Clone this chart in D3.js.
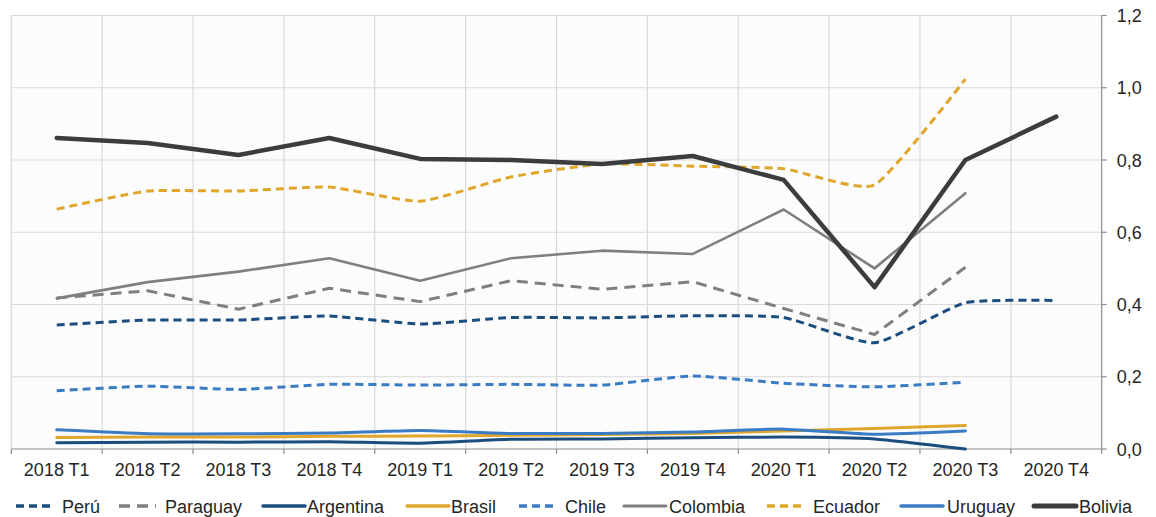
<!DOCTYPE html>
<html><head><meta charset="utf-8">
<script src="https://cdn.jsdelivr.net/npm/d3@7"></script>
<style>
body{margin:0;background:#fff;}
svg text{font-family:"Liberation Sans",Arial,sans-serif;fill:#262626;}
</style></head>
<body><svg id="c" width="1156" height="517"></svg>
<script>
const categories = ["2018 T1","2018 T2","2018 T3","2018 T4","2019 T1","2019 T2","2019 T3","2019 T4","2020 T1","2020 T2","2020 T3","2020 T4"];
const yTicks = [0,0.2,0.4,0.6,0.8,1.0,1.2];
const peru      = [0.343,0.357,0.357,0.368,0.346,0.364,0.363,0.369,0.364,0.294,0.405,0.411];
const paraguay  = [0.418,0.438,0.387,0.445,0.408,0.466,0.442,0.463,0.389,0.317,0.503,null];
const argentina = [0.017,0.019,0.019,0.020,0.016,0.027,0.028,0.031,0.033,0.028,0.000,null];
const brasil    = [0.032,0.033,0.033,0.035,0.036,0.038,0.040,0.043,0.050,0.057,0.065,null];
const chile     = [0.161,0.174,0.165,0.179,0.177,0.179,0.177,0.202,0.182,0.172,0.185,null];
const colombia  = [0.417,0.462,0.491,0.528,0.466,0.528,0.549,0.540,0.663,0.500,0.708,null];
const ecuador   = [0.664,0.714,0.714,0.725,0.686,0.753,0.789,0.783,0.776,0.731,1.024,null];
const uruguay   = [0.053,0.042,0.042,0.044,0.051,0.043,0.043,0.047,0.055,0.041,0.050,null];
const bolivia   = [0.861,0.847,0.814,0.861,0.803,0.800,0.789,0.811,0.745,0.448,0.800,0.920];

const seriesNames = ["Perú","Paraguay","Argentina","Brasil","Chile","Colombia","Ecuador","Uruguay","Bolivia"];
const seriesData = [peru,paraguay,argentina,brasil,chile,colombia,ecuador,uruguay,bolivia];
const styles = [
 {c:"#1b4d7e",w:3,d:"8,5",s:true},
 {c:"#7f7f7f",w:3,d:"11,7",s:false},
 {c:"#1b4d7e",w:3,d:null,s:true},
 {c:"#e0a62b",w:3,d:null,s:true},
 {c:"#3a7cc4",w:3,d:"8,5",s:true},
 {c:"#7f7f7f",w:2.6,d:null,s:false},
 {c:"#e0a62b",w:3,d:"8,5",s:true},
 {c:"#3a7cc4",w:3,d:null,s:true},
 {c:"#3a3c3e",w:4.5,d:null,s:false}
];
const legendX = [16,119,263,407,519,624,767,901,1034];
const legendLen = [37,37,42,42,37,42,37,42,42];
const legendGap = [9,9,2,2,9,3,9,4,3];

const svg = d3.select("#c");
const L=11.3, R=1101.7, T=15.5, B=449;
const x = d3.scaleBand().domain(categories).range([L,R]);
const y = d3.scaleLinear().domain([0,1.2]).range([B,T]);

svg.append("rect").attr("x",L).attr("y",T).attr("width",R-L).attr("height",B-T).attr("fill","#fcfcfc");
svg.append("g").selectAll("line").data(yTicks.filter(d=>d>0)).join("line")
  .attr("x1",L).attr("x2",R).attr("y1",d=>y(d)).attr("y2",d=>y(d))
  .attr("stroke","#d9d9d9").attr("stroke-width",1.2);
svg.append("g").selectAll("line").data(categories).join("line")
  .attr("x1",d=>x(d)).attr("x2",d=>x(d)).attr("y1",T).attr("y2",B)
  .attr("stroke","#d9d9d9").attr("stroke-width",1.2);

const xa = svg.append("g").attr("transform",`translate(0,${B})`);
xa.append("line").attr("x1",L).attr("x2",R).attr("stroke","#8c8c8c").attr("stroke-width",1.2);
xa.selectAll("line.t").data(categories.concat(["end"])).join("line").attr("class","t")
  .attr("x1",(d,i)=>L+i*x.bandwidth()).attr("x2",(d,i)=>L+i*x.bandwidth())
  .attr("y1",0).attr("y2",5).attr("stroke","#8c8c8c").attr("stroke-width",1.2);
xa.selectAll("text").data(categories).join("text")
  .attr("x",d=>x(d)+x.bandwidth()/2).attr("y",27).attr("text-anchor","middle")
  .attr("font-size",18).text(d=>d);

const ya = svg.append("g").attr("transform",`translate(${R},0)`);
ya.append("line").attr("y1",T).attr("y2",B).attr("stroke","#8c8c8c").attr("stroke-width",1.2);
ya.selectAll("line.t").data(yTicks).join("line").attr("class","t")
  .attr("x1",0).attr("x2",5).attr("y1",d=>y(d)).attr("y2",d=>y(d)).attr("stroke","#8c8c8c").attr("stroke-width",1.2);
ya.selectAll("text").data(yTicks).join("text")
  .attr("x",15).attr("y",d=>y(d)+6.5).attr("font-size",18)
  .text(d=>d3.format(".1f")(d).replace(".",","));

const cx = d=>x(d)+x.bandwidth()/2;
seriesData.forEach((vals,i)=>{
  const st=styles[i];
  const pts = vals.map((v,j)=>({c:categories[j],v})).filter(p=>p.v!==null);
  const line = d3.line().x(p=>cx(p.c)).y(p=>y(p.v))
     .curve(st.s?d3.curveCardinal.tension(0.5):d3.curveLinear);
  svg.append("path").attr("d",line(pts)).attr("fill","none")
    .attr("stroke",st.c).attr("stroke-width",st.w)
    .attr("stroke-dasharray",st.d).attr("stroke-linejoin","round").attr("stroke-linecap",st.d?"butt":"round");
});

const lg = svg.append("g");
seriesNames.forEach((n,i)=>{
  const st=styles[i];
  lg.append("line").attr("x1",legendX[i]).attr("x2",legendX[i]+legendLen[i])
    .attr("y1",506).attr("y2",506).attr("stroke",st.c).attr("stroke-width",st.w+0.5)
    .attr("stroke-dasharray",st.d).attr("stroke-linecap",st.d?"butt":"round");
  lg.append("text").attr("x",legendX[i]+legendLen[i]+legendGap[i]).attr("y",512.5)
    .attr("font-size",18).text(n);
});
</script></body></html>
